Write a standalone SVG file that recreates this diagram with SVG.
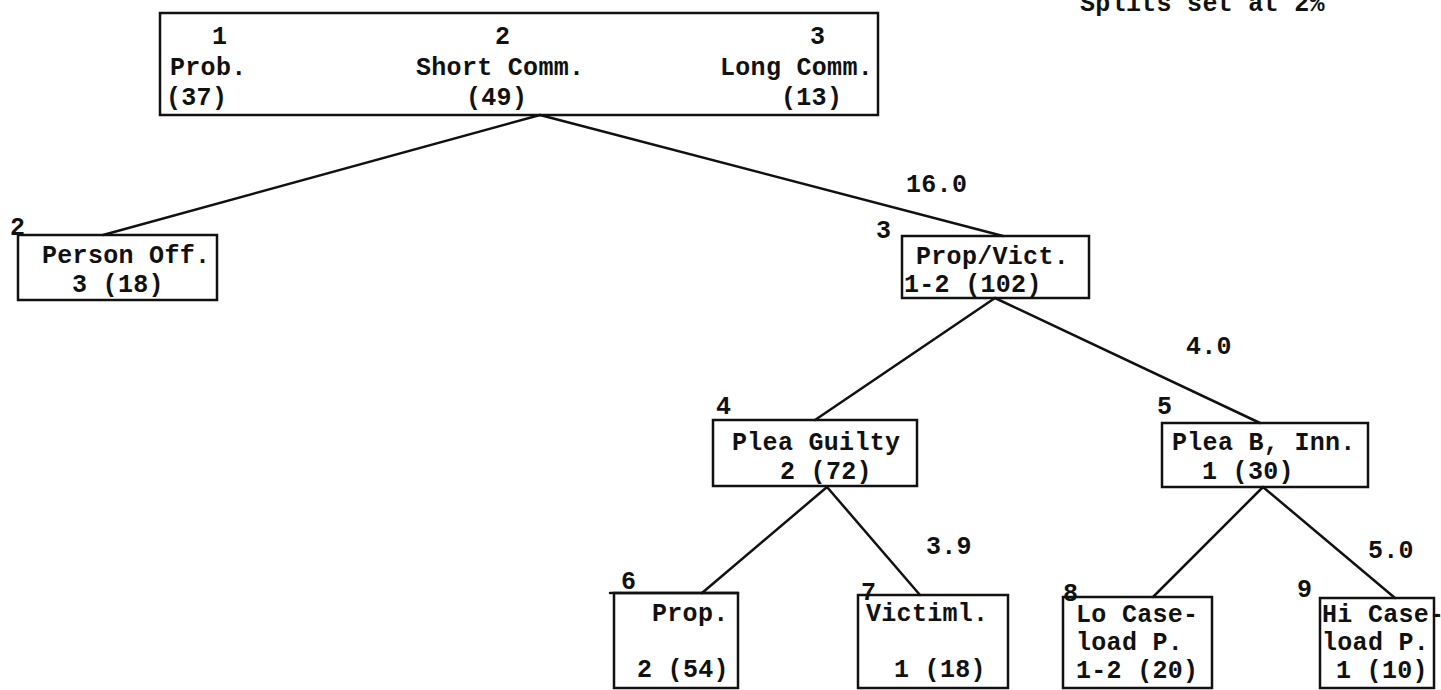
<svg xmlns="http://www.w3.org/2000/svg" width="1441" height="690" viewBox="0 0 1441 690">
<style>
  text { font-family: "Liberation Mono", "DejaVu Sans Mono", monospace; font-size: 25px; font-weight: bold; fill: #111; letter-spacing: 0.3px; }
  .box { fill: none; stroke: #111; stroke-width: 2.5; }
  .edge { stroke: #111; stroke-width: 2.5; fill: none; stroke-linecap: round; }
</style>
<rect width="1441" height="690" fill="#fff"/>
<text x="1080" y="11">Splits set at 2%</text>
<g id="connectors">
  <line class="edge" x1="540" y1="115" x2="103" y2="235"/>
  <line class="edge" x1="540" y1="115" x2="1003" y2="236"/>
  <line class="edge" x1="995" y1="298" x2="815" y2="420"/>
  <line class="edge" x1="995" y1="298" x2="1260" y2="423"/>
  <line class="edge" x1="827" y1="487" x2="702" y2="593"/>
  <line class="edge" x1="827" y1="487" x2="920" y2="595"/>
  <line class="edge" x1="1263" y1="487" x2="1153" y2="597"/>
  <line class="edge" x1="1263" y1="487" x2="1395" y2="598"/>
  <text x="906" y="192">16.0</text>
  <text x="1186" y="354">4.0</text>
  <text x="926" y="554">3.9</text>
  <text x="1368" y="558">5.0</text>
</g>
<g id="node1">
  <rect class="box" x="160" y="13" width="718" height="102"/>
  <text x="212" y="44">1</text>
  <text x="170" y="75">Prob.</text>
  <text x="166" y="105">(37)</text>
  <text x="495" y="44">2</text>
  <text x="416" y="75">Short Comm.</text>
  <text x="466" y="105">(49)</text>
  <text x="810" y="44">3</text>
  <text x="720" y="75">Long Comm.</text>
  <text x="781" y="105">(13)</text>
</g>
<g id="node2">
  <text x="10" y="235">2</text>
  <rect class="box" x="18" y="235" width="199" height="65"/>
  <text x="42" y="263">Person Off.</text>
  <text x="72" y="292">3 (18)</text>
</g>
<g id="node3">
  <text x="876" y="238">3</text>
  <rect class="box" x="902" y="236" width="187" height="62"/>
  <text x="916" y="264">Prop/Vict.</text>
  <text x="904" y="292">1-2 (102)</text>
</g>
<g id="node4">
  <text x="716" y="414">4</text>
  <rect class="box" x="713" y="420" width="204" height="66"/>
  <text x="732" y="450">Plea Guilty</text>
  <text x="780" y="479">2 (72)</text>
</g>
<g id="node5">
  <text x="1157" y="414">5</text>
  <rect class="box" x="1162" y="423" width="206" height="64"/>
  <text x="1172" y="450">Plea B, Inn.</text>
  <text x="1202" y="479">1 (30)</text>
</g>
<g id="node6">
  <text x="621" y="589">6</text>
  <line class="edge" x1="610" y1="593" x2="738" y2="593"/>
  <rect class="box" x="614" y="593" width="124" height="95"/>
  <text x="652" y="621">Prop.</text>
  <text x="637" y="677">2 (54)</text>
</g>
<g id="node7">
  <rect class="box" x="858" y="595" width="150" height="93"/>
  <text x="861" y="600">7</text>
  <text x="866" y="621">Victiml.</text>
  <text x="894" y="677">1 (18)</text>
</g>
<g id="node8">
  <rect class="box" x="1063" y="597" width="149" height="91"/>
  <text x="1063" y="601">8</text>
  <text x="1076" y="622">Lo Case-</text>
  <text x="1076" y="650">load P.</text>
  <text x="1076" y="678">1-2 (20)</text>
</g>
<g id="node9">
  <text x="1297" y="597">9</text>
  <rect class="box" x="1320" y="598" width="114" height="90"/>
  <text x="1322" y="622">Hi Case-</text>
  <text x="1322" y="650">load P.</text>
  <text x="1336" y="678">1 (10)</text>
</g>
</svg>
